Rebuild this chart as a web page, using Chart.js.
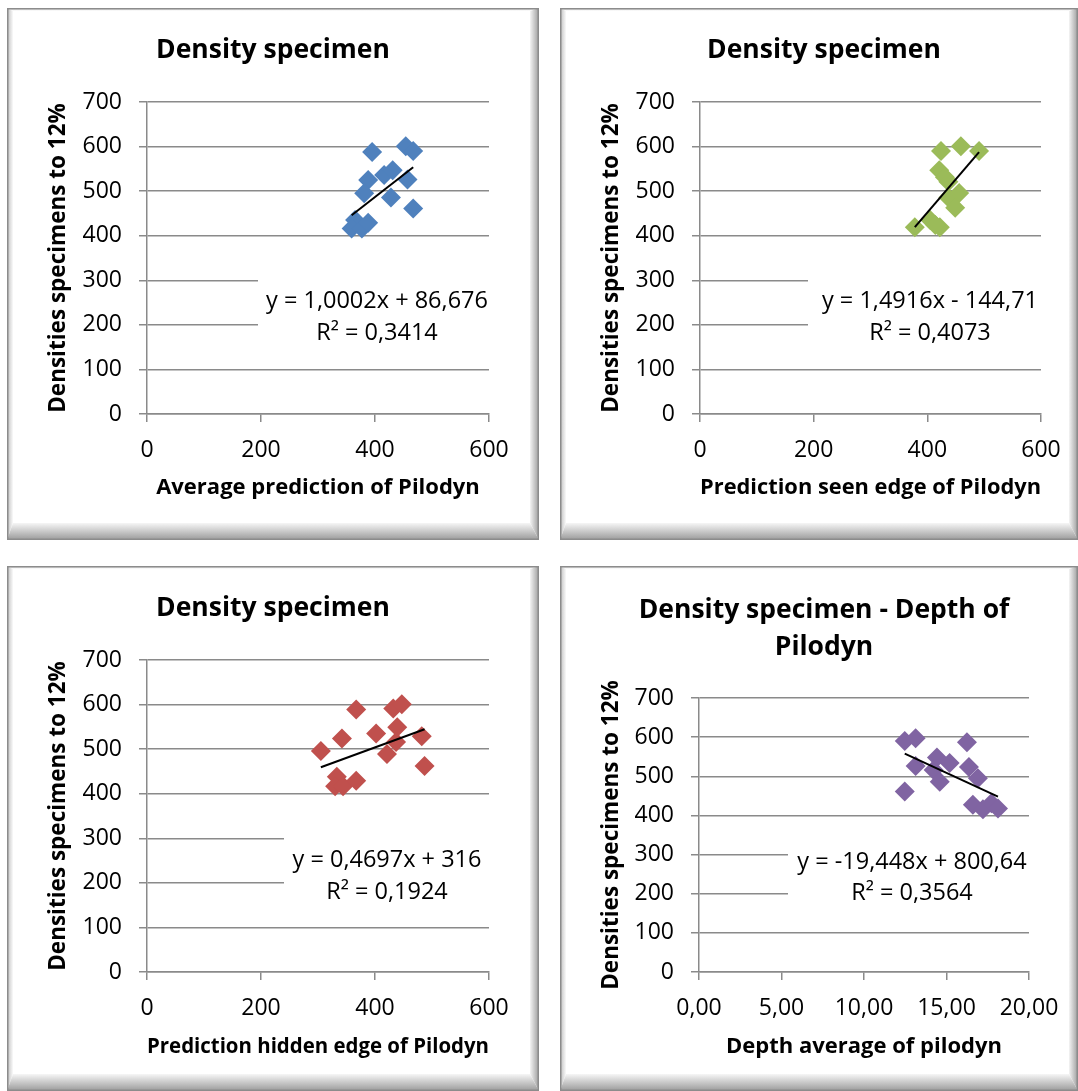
<!DOCTYPE html>
<html>
<head>
<meta charset="utf-8">
<script src="https://cdn.jsdelivr.net/npm/chart.js@4.4.1/dist/chart.umd.min.js"></script>
<style>
  html, body { margin: 0; padding: 0; background: #fff; }
  body { width: 1078px; height: 1091px; position: relative; overflow: hidden; }
  canvas { position: absolute; }
</style>
</head>
<body>
<canvas id="c1"></canvas>
<canvas id="c2"></canvas>
<canvas id="c3"></canvas>
<canvas id="c4"></canvas>
<script>
// Density of specimens at 12 % moisture against Pilodyn readings

// Average prediction of Pilodyn
const avgPilodyn  = [395, 454, 467, 388, 416, 431, 457, 381, 428, 467, 365, 359, 377, 388];
const avgDensity  = [588, 601, 590, 525, 536, 547, 526, 495, 486, 461, 435, 416, 416, 429];

// Prediction seen edge of Pilodyn
const seenPilodyn = [424, 459, 491, 421, 431, 437, 456, 437, 449, 378, 405, 422, 414];
const seenDensity = [590, 601, 590, 547, 531, 521, 496, 486, 463, 419, 435, 419, 424];

// Prediction hidden edge of Pilodyn
const hiddenPilodyn = [367, 432, 447, 402, 342, 439, 437, 482, 305, 421, 487, 333, 330, 344, 367];
const hiddenDensity = [589, 591, 601, 535, 524, 549, 516, 529, 496, 489, 462, 438, 417, 417, 429];

// Depth average of pilodyn
const depthPilodyn = [12.47, 13.13, 16.24, 13.13, 14.42, 15.19, 14.22, 16.36, 16.90, 14.59, 12.47, 16.60, 17.21, 17.72, 18.12];
const depthDensity = [590, 597, 587, 526, 548, 534, 516, 524, 495, 486, 461, 427, 416, 431, 418];

// Linear trend lines (slope, intercept) and their labels
const trendSlopes     = [1.0002, 1.4916, 0.4697, -19.448];
const trendIntercepts = [86.676, -144.71, 316, 800.64];
const trendEquations  = ['y = 1,0002x + 86,676', 'y = 1,4916x - 144,71', 'y = 0,4697x + 316', 'y = -19,448x + 800,64'];
const trendR2         = ['R² = 0,3414', 'R² = 0,4073', 'R² = 0,1924', 'R² = 0,3564'];

// Titles
const chartTitles = [['Density specimen'], ['Density specimen'], ['Density specimen'], ['Density specimen - Depth of', 'Pilodyn']];
const xTitles = ['Average prediction of Pilodyn', 'Prediction seen edge of Pilodyn', 'Prediction hidden edge of Pilodyn', 'Depth average of pilodyn'];
const yTitle = 'Densities specimens to 12%';

// Axis ranges
const yMax = 700, yStep = 100;
const xMaxes = [600, 600, 600, 20];
const xSteps = [200, 200, 200, 5];
const xDecimals = [0, 0, 0, 2];

const seriesX = [avgPilodyn, seenPilodyn, hiddenPilodyn, depthPilodyn];
const seriesY = [avgDensity, seenDensity, hiddenDensity, depthDensity];
const colors = ['#4F81BD', '#9BBB59', '#C0504D', '#8064A2'];

// Panel geometry (page position, canvas size, plot box inside the canvas)
const panels = [
  { id: 'c1', left: 7,   top: 8,   w: 532, h: 532, padB: 20, plot: { l: 140, r: 482, t: 94,  b: 406 }, titleX: 266, titleY: [42],     box: { x: 251, y: 262, w: 250, h: 80 }, eqX: 370, eqY: [293, 325] },
  { id: 'c2', left: 560, top: 8,   w: 518, h: 532, padB: 20, plot: { l: 140, r: 481, t: 94,  b: 406 }, titleX: 264, titleY: [42],     box: { x: 248, y: 262, w: 260, h: 80 }, eqX: 370, eqY: [293, 325] },
  { id: 'c3', left: 7,   top: 566, w: 532, h: 525, padB: 12, plot: { l: 140, r: 482, t: 94,  b: 406 }, titleX: 266, titleY: [42],     box: { x: 277, y: 262, w: 220, h: 80 }, eqX: 380, eqY: [294, 326] },
  { id: 'c4', left: 560, top: 566, w: 518, h: 525, padB: 12, plot: { l: 139, r: 469, t: 132, b: 406 }, titleX: 264, titleY: [44, 81], box: { x: 228, y: 268, w: 270, h: 80 }, eqX: 352, eqY: [296, 327] }
];

const FONT = "'Open Sans', 'DejaVu Sans', sans-serif";
const GRID = '#8a8a8a';
const PAD_L = 8;

// Bevelled frame, chart title and trend-line label
const panelDecor = {
  id: 'panelDecor',
  beforeDraw(chart, args, o) {
    const ctx = chart.ctx, W = chart.width, H = chart.height;
    const t = 3, l = 6, r = 9, b = 17;
    ctx.save();
    ctx.fillStyle = '#fff';
    ctx.fillRect(0, 0, W, H);
    const quad = (pts, grad) => {
      ctx.beginPath();
      ctx.moveTo(pts[0][0], pts[0][1]);
      for (let i = 1; i < pts.length; i++) ctx.lineTo(pts[i][0], pts[i][1]);
      ctx.closePath();
      ctx.fillStyle = grad;
      ctx.fill();
    };
    let g = ctx.createLinearGradient(0, 0, 0, t);
    g.addColorStop(0, '#d0d0d0'); g.addColorStop(1, '#ffffff');
    quad([[0, 0], [W, 0], [W - r, t], [l, t]], g);
    g = ctx.createLinearGradient(0, 0, l, 0);
    g.addColorStop(0, '#bdbdbd'); g.addColorStop(1, '#fafafa');
    quad([[0, 0], [l, t], [l, H - b], [0, H]], g);
    g = ctx.createLinearGradient(W - r, 0, W, 0);
    g.addColorStop(0, '#f4f4f4'); g.addColorStop(1, '#9c9c9c');
    quad([[W, 0], [W - r, t], [W - r, H - b], [W, H]], g);
    g = ctx.createLinearGradient(0, H - b, 0, H);
    g.addColorStop(0, '#f6f6f6'); g.addColorStop(1, '#9a9a9a');
    quad([[0, H], [l, H - b], [W - r, H - b], [W, H]], g);
    ctx.strokeStyle = '#8c8c8c';
    ctx.lineWidth = 1.5;
    ctx.strokeRect(0.75, 0.75, W - 1.5, H - 1.5);
    ctx.restore();
  },
  beforeDatasetsDraw(chart, args, o) {
    const ctx = chart.ctx;
    ctx.save();
    ctx.fillStyle = '#fff';
    ctx.fillRect(o.box.x, o.box.y, o.box.w, o.box.h);
    ctx.fillStyle = '#000';
    ctx.font = '23.5px ' + FONT;
    ctx.textAlign = 'center';
    ctx.textBaseline = 'middle';
    o.lines.forEach((s, i) => ctx.fillText(s, o.eqX, o.eqY[i]));
    ctx.restore();
  },
  afterDraw(chart, args, o) {
    const ctx = chart.ctx;
    ctx.save();
    ctx.fillStyle = '#000';
    ctx.font = 'bold 26.5px ' + FONT;
    ctx.textAlign = 'center';
    ctx.textBaseline = 'middle';
    o.title.forEach((s, i) => ctx.fillText(s, o.titleX, o.titleY[i]));
    ctx.restore();
  }
};

panels.forEach((p, i) => {
  const cv = document.getElementById(p.id);
  cv.width = p.w; cv.height = p.h;
  cv.style.left = p.left + 'px';
  cv.style.top = p.top + 'px';

  const xs = seriesX[i], ys = seriesY[i];
  const points = xs.map((x, k) => ({ x: x, y: ys[k] }));
  const x0 = Math.min(...xs), x1 = Math.max(...xs);
  const trend = [x0, x1].map(x => ({ x: x, y: trendSlopes[i] * x + trendIntercepts[i] }));
  const dec = xDecimals[i];

  new Chart(cv, {
    type: 'scatter',
    data: {
      datasets: [
        { data: trend, showLine: true, borderColor: '#000', borderWidth: 2, pointRadius: 0, fill: false },
        { data: points, pointStyle: 'rectRot', pointRadius: 10, backgroundColor: colors[i], borderWidth: 0 }
      ]
    },
    options: {
      responsive: false, animation: false, events: [], devicePixelRatio: 1,
      layout: { padding: { left: PAD_L, right: p.w - p.plot.r, top: p.plot.t, bottom: p.padB } },
      plugins: {
        legend: { display: false },
        tooltip: { enabled: false },
        title: { display: false },
        panelDecor: {
          title: chartTitles[i], titleX: p.titleX, titleY: p.titleY,
          lines: [trendEquations[i], trendR2[i]], eqX: p.eqX, eqY: p.eqY, box: p.box
        }
      },
      scales: {
        x: {
          type: 'linear', min: 0, max: xMaxes[i],
          ticks: {
            stepSize: xSteps[i], color: '#000', padding: 15, maxRotation: 0,
            font: { family: FONT, size: 23 },
            callback: v => v.toFixed(dec).replace('.', ',')
          },
          grid: { drawOnChartArea: false, drawTicks: true, tickLength: 8, color: GRID, lineWidth: 1.5 },
          border: { display: true, color: GRID, width: 1.5 },
          title: { display: true, text: xTitles[i], color: '#000', font: { family: FONT, size: 22, weight: 'bold', lineHeight: '26px' }, padding: { top: 0, bottom: 19 } },
          afterFit(s) { s.height = p.h - p.padB - p.plot.b; s.paddingLeft = 0; s.paddingRight = 0; }
        },
        y: {
          type: 'linear', min: 0, max: yMax,
          ticks: { stepSize: yStep, color: '#000', padding: 17, font: { family: FONT, size: 23 } },
          grid: { drawOnChartArea: true, drawTicks: true, tickLength: 8, color: GRID, lineWidth: 1.5 },
          border: { display: true, color: GRID, width: 1.5 },
          title: { display: true, text: yTitle, color: '#000', font: { family: FONT, size: 22.5, weight: 'bold', lineHeight: '26px' }, padding: { top: 31, bottom: 0 } },
          afterFit(s) { s.width = p.plot.l - PAD_L; s.paddingTop = 0; s.paddingBottom = 0; }
        }
      }
    },
    plugins: [panelDecor]
  });
});
</script>
</body>
</html>
